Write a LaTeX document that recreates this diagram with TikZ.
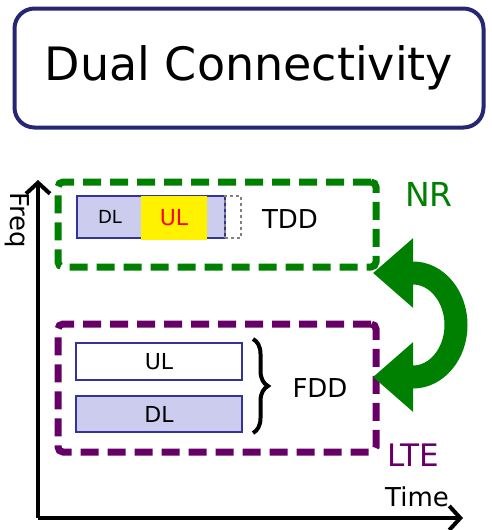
\documentclass[tikz,border=0pt]{standalone}
\usepackage{fontspec}
\setmainfont{DejaVu Sans}
\usepackage{tikz}
\usepackage{xcolor}
\usetikzlibrary{arrows.meta,positioning,decorations.pathreplacing}

\definecolor{nrgreen}{HTML}{008000}
\definecolor{ltepurple}{HTML}{660066}
\definecolor{titlenavy}{HTML}{262673}
\definecolor{barfill}{HTML}{CCCCEE}
\definecolor{barline}{HTML}{333399}

\begin{document}
\begin{tikzpicture}[
    x=1pt, y=-1pt,
    titlebox/.style={rectangle, draw=titlenavy, line width=4pt, rounded corners=20pt, minimum width=469pt, minimum height=119pt, font=\fontsize{46}{50}\selectfont},
    ratbox/.style={rectangle, line width=7pt, dash pattern=on 18pt off 9pt, rounded corners=5pt},
    bandbar/.style={rectangle, draw=barline, line width=1.2pt, inner sep=0pt},
    axis/.style={line width=4.5pt, -{Straight Barb[length=11pt,width=24pt,line width=4pt]}},
    label/.style={font=\fontsize{26}{30}\selectfont},
    bandtext/.style={font=\fontsize{22}{26}\selectfont}
]
\useasboundingbox (0,0) rectangle (491,530);

% Title
\node[titlebox] (title) at (249,68) {Dual Connectivity};

% Axes
\coordinate (origin) at (38,518);
\coordinate (freqtop) at (38,180);
\coordinate (timeend) at (463,518);
\draw[axis] (origin) -- (freqtop);
\draw[axis] (origin) -- (timeend);
\node[label, rotate=-90] (freq) at (17,220) {Freq};
\node[label] (time) at (417,497) {Time};

% NR carrier (TDD)
\node[ratbox, draw=nrgreen, minimum width=318pt, minimum height=85pt] (nrbox) at (217,224.5) {};
\node[bandbar, fill=barfill, minimum width=148pt, minimum height=42pt] (tddbar) at (151,217) {};
\node[bandbar, draw=gray, dashed, minimum width=16pt, minimum height=42pt] (tddguard) at (233,217) {};
\node[rectangle, fill=yellow, minimum width=66pt, minimum height=44pt, inner sep=0pt, text=red, bandtext] (tddul) at (174,218) {UL};
\node[font=\fontsize{18}{22}\selectfont] (tdddl) at (110,217) {DL};
\node[label] (tdd) at (290,219) {TDD};
\node[font=\fontsize{33}{38}\selectfont, text=nrgreen] (nr) at (429,194) {NR};

% LTE carrier (FDD)
\node[ratbox, draw=ltepurple, minimum width=318pt, minimum height=128pt] (ltebox) at (217,388) {};
\node[bandbar, fill=white, minimum width=166pt, minimum height=37pt, bandtext] (fddul) at (159,361.5) {UL};
\node[bandbar, fill=barfill, minimum width=166pt, minimum height=36pt, bandtext] (fdddl) at (159,414) {DL};
\draw[line width=4pt, decorate, decoration={brace, amplitude=15pt, aspect=0.5}] (253,339) -- (253,433);
\node[label] (fdd) at (320,388) {FDD};
\node[font=\fontsize{31}{36}\selectfont, text=ltepurple] (lte) at (413,455) {LTE};

% Dual connectivity arrow
\draw[nrgreen, line width=23pt, {Triangle[length=40pt,width=67pt]}-{Triangle[length=40pt,width=67pt]}]
    (373,273) -- (413,273) arc[start angle=90, end angle=-90, x radius=43pt, y radius=52pt] -- (373,377);

\end{tikzpicture}
\end{document}
